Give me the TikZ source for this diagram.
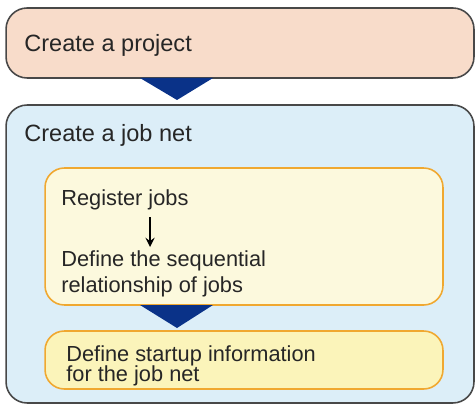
\documentclass[tikz,border=0pt]{standalone}
\usepackage{fontspec}
\setmainfont{Liberation Sans}
\usepackage{tikz}
\usepackage{xcolor}
\usetikzlibrary{positioning}
\definecolor{projfill}{HTML}{F8DCCA}
\definecolor{netfill}{HTML}{DCEEF8}
\definecolor{jobfill}{HTML}{FCF9DD}
\definecolor{startfill}{HTML}{FBF4BA}
\definecolor{orangeline}{HTML}{F0A830}
\definecolor{greyline}{HTML}{484848}
\definecolor{navy}{HTML}{0A3288}
\tikzstyle{outerbox} = [rectangle, rounded corners=12pt, draw=greyline, line width=0.9pt, minimum width=9.36cm]
\tikzstyle{innerbox} = [rectangle, rounded corners=11pt, draw=orangeline, line width=0.9pt, minimum width=7.96cm]
\tikzstyle{bigtext} = [anchor=west, inner sep=0pt, font=\fontsize{13.4}{16}\selectfont, text=black!85]
\tikzstyle{smalltext} = [anchor=north west, inner sep=0pt, align=left, text=black!85]
\tikzstyle{arrow} = [line width=1.3pt,->,>=stealth]

\begin{document}
\begin{tikzpicture}[x=0.02cm, y=-0.02cm]
        \useasboundingbox (0,0) rectangle (475,405);
        \node (project) [outerbox, fill=projfill, minimum height=1.4cm] at (240,43) {};
        \node (jobnet) [outerbox, fill=netfill, minimum height=5.96cm] at (240,254) {};
        \node (define) [innerbox, fill=jobfill, minimum height=2.74cm] at (244,236.5) {};
        \node (startup) [innerbox, fill=startfill, minimum height=1.16cm] at (244,360) {};

        \node (projtext) [bigtext] at (24,45) {Create a project};
        \node (nettext) [bigtext] at (24,135) {Create a job net};
        \node (reg) [bigtext, font=\fontsize{12.4}{15}\selectfont] at (61,200) {Register jobs};
        \node (seq) [smalltext, font=\fontsize{12.4}{14.8}\selectfont] at (61,250) {Define the sequential\\relationship of jobs};
        \node (info) [smalltext, font=\fontsize{12.4}{11.6}\selectfont] at (66,345) {Define startup information\\for the job net};

        \coordinate (a1) at (150,217);
        \coordinate (a2) at (150,247);
        \draw [arrow] (a1) -- (a2);

        % block arrows between the steps
        \fill [navy] (140,78) -- (213,78) -- (177,100) -- cycle;
        \fill [navy] (140,305) -- (213,305) -- (177,328) -- cycle;
    \end{tikzpicture}
\end{document}
